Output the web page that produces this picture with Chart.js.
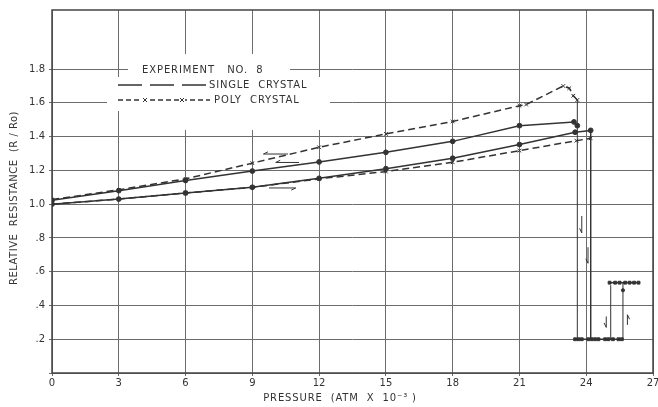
<!DOCTYPE html>
<html>
<head>
<meta charset="utf-8">
<script src="https://cdn.jsdelivr.net/npm/chart.js@4/dist/chart.umd.min.js"></script>
<style>
  html, body { margin: 0; padding: 0; background: #fff; }
  #wrap { width: 658px; height: 407px; }
</style>
</head>
<body>
<div id="wrap"><canvas id="c"></canvas></div>
<script>
const INK = "#333";
const GRID = "#6c6c6c";
const FONT = "'DejaVu Sans', 'Liberation Sans', sans-serif";

// pressure (atm x 10^-3) vs R/R0
const singleUpX = [0, 3, 6, 9, 12, 15, 18, 21, 23.5, 24.2];
const singleUpY = [1.0, 1.03, 1.066, 1.10, 1.153, 1.21, 1.272, 1.353, 1.426, 1.437];
const singleDownX = [23.6, 23.45, 21, 18, 15, 12, 9, 6, 3, 0];
const singleDownY = [1.465, 1.487, 1.465, 1.372, 1.307, 1.25, 1.196, 1.14, 1.08, 1.023];
const polyUpX = [0, 3, 6, 9, 12, 15, 18, 21, 23.56, 24.2];
const polyUpY = [1.0, 1.03, 1.066, 1.10, 1.15, 1.193, 1.248, 1.317, 1.376, 1.39];
const polyDownX = [23.6, 23.42, 23.24, 22.97, 21.3, 21, 18, 15, 12, 9, 6, 3, 0];
const polyDownY = [1.617, 1.642, 1.687, 1.70, 1.59, 1.583, 1.49, 1.416, 1.337, 1.243, 1.15, 1.085, 1.027];

// vertical transitions
const dropAX = [23.6, 23.6];
const dropAY = [0.2, 1.617];
const dropBX = [24.2, 24.2];
const dropBY = [1.437, 0.2];
const riseAX = [25.1, 25.1];
const riseAY = [0.2, 0.52];
const riseBX = [25.65, 25.65, 25.65, 25.65];
const riseBY = [0.2, 0.46, 0.49, 0.535];

// low resistance phase
const lowX = [23.5, 23.65, 23.8, 24.1, 24.25, 24.4, 24.55, 24.85, 25.0, 25.2, 25.45, 25.6];
const lowY = [0.2, 0.2, 0.2, 0.2, 0.2, 0.2, 0.2, 0.2, 0.2, 0.2, 0.2, 0.2];
const lowTopX = [25.05, 25.3, 25.5, 25.75, 25.95, 26.15, 26.35];
const lowTopY = [0.535, 0.535, 0.535, 0.535, 0.535, 0.535, 0.535];

// direction arrows [x1, y1, x2, y2]
const arrows = [
  [10.6, 1.297, 9.5, 1.297],
  [11.1, 1.247, 10.05, 1.247],
  [9.75, 1.096, 10.95, 1.096],
  [23.8, 0.93, 23.8, 0.83],
  [24.08, 0.745, 24.08, 0.65],
  [24.9, 0.335, 24.9, 0.27],
  [25.85, 0.285, 25.85, 0.345],
];

const xTicks = [0, 3, 6, 9, 12, 15, 18, 21, 24, 27];
const yTicks = [0, 0.2, 0.4, 0.6, 0.8, 1.0, 1.2, 1.4, 1.6, 1.8];
const yLabels = ["", ".2", ".4", ".6", ".8", "1.0", "1.2", "1.4", "1.6", "1.8"];

const pts = (xs, ys) => xs.map((x, i) => ({ x, y: ys[i] }));

function series(xs, ys, o) {
  return Object.assign({
    data: pts(xs, ys),
    borderColor: INK,
    backgroundColor: INK,
    borderWidth: 1.5,
    pointRadius: 2.4,
    pointBorderWidth: 1,
    pointStyle: "circle",
    tension: 0,
  }, o);
}

function spaced(ctx, text, x, y, spacing) {
  ctx.letterSpacing = spacing + "px";
  ctx.fillText(text, x, y);
  ctx.letterSpacing = "0px";
}

const legendBox = {
  id: "legendBox",
  beforeDatasetsDraw(chart) {
    const ctx = chart.ctx;
    ctx.save();
    ctx.fillStyle = "#fff";
    ctx.fillRect(128, 54, 162, 76);
    ctx.fillRect(107, 77, 21, 34);
    ctx.fillRect(290, 77, 40, 53);
    const a = chart.chartArea;
    ctx.strokeStyle = "#444";
    ctx.lineWidth = 1.5;
    ctx.strokeRect(a.left, a.top, a.right - a.left, a.bottom - a.top);
    ctx.restore();
  },
  afterDatasetsDraw(chart) {
    const ctx = chart.ctx;
    const xs = chart.scales.x, ys = chart.scales.y;
    ctx.save();
    ctx.fillStyle = INK;
    ctx.strokeStyle = INK;
    ctx.font = "10px " + FONT;
    ctx.textBaseline = "middle";
    spaced(ctx, "EXPERIMENT   NO.  8", 142, 70, 0.9);
    spaced(ctx, "SINGLE  CRYSTAL", 209, 85, 0.8);
    spaced(ctx, "POLY  CRYSTAL", 214, 100, 0.9);
    ctx.lineWidth = 1.5;
    ctx.setLineDash([24, 8]);
    ctx.beginPath(); ctx.moveTo(118, 85); ctx.lineTo(208, 85); ctx.stroke();
    ctx.setLineDash([5, 3]);
    ctx.beginPath(); ctx.moveTo(118, 100); ctx.lineTo(210, 100); ctx.stroke();
    ctx.setLineDash([]);
    ctx.lineWidth = 1;
    [145, 182].forEach((cx) => {
      ctx.fillStyle = "#fff";
      ctx.fillRect(cx - 3, 96, 6, 8);
      ctx.beginPath();
      ctx.moveTo(cx - 2, 98); ctx.lineTo(cx + 2, 102);
      ctx.moveTo(cx + 2, 98); ctx.lineTo(cx - 2, 102);
      ctx.stroke();
    });
    ctx.fillStyle = INK;
    // axis titles
    ctx.textAlign = "center";
    spaced(ctx, "PRESSURE  (ATM  X  10⁻³ )", 340, 398, 0.85);
    ctx.translate(14, 198);
    ctx.rotate(-Math.PI / 2);
    spaced(ctx, "RELATIVE  RESISTANCE  (R / Ro)", 0, 0, 0.5);
    ctx.setTransform(1, 0, 0, 1, 0, 0);
    // direction arrows
    ctx.lineWidth = 1;
    arrows.forEach(([x1, y1, x2, y2]) => {
      const p1 = [xs.getPixelForValue(x1), ys.getPixelForValue(y1)];
      const p2 = [xs.getPixelForValue(x2), ys.getPixelForValue(y2)];
      const ang = Math.atan2(p2[1] - p1[1], p2[0] - p1[0]);
      ctx.beginPath();
      ctx.moveTo(p1[0], p1[1]);
      ctx.lineTo(p2[0], p2[1]);
      ctx.lineTo(p2[0] - 5 * Math.cos(ang - 0.45), p2[1] - 5 * Math.sin(ang - 0.45));
      ctx.stroke();
    });
    ctx.restore();
  },
};

new Chart(document.getElementById("c"), {
  type: "line",
  data: {
    datasets: [
      series(singleUpX, singleUpY, {}),
      series(singleDownX, singleDownY, {}),
      series(polyUpX, polyUpY, { borderDash: [7, 4], pointStyle: "crossRot", pointRadius: 2.6 }),
      series(polyDownX, polyDownY, { borderDash: [7, 4], pointStyle: "crossRot", pointRadius: 2.6 }),
      series(dropAX, dropAY, { borderWidth: 1, pointRadius: 0 }),
      series(dropBX, dropBY, { borderWidth: 1, pointRadius: 0 }),
      series(riseAX, riseAY, { borderWidth: 1, pointRadius: 0 }),
      series(riseBX, riseBY, { borderWidth: 1, pointRadius: [0, 0, 1.6, 0] }),
      series(lowX, lowY, { pointStyle: "rect", pointRadius: 2 }),
      series(lowTopX, lowTopY, { pointStyle: "rect", pointRadius: 2 }),
    ],
  },
  options: {
    responsive: true,
    maintainAspectRatio: false,
    animation: false,
    layout: { padding: { left: 0, right: 3, top: 9, bottom: 0 } },
    plugins: { legend: { display: false }, tooltip: { enabled: false } },
    scales: {
      x: {
        type: "linear",
        min: 0,
        max: 27,
        afterBuildTicks: (s) => { s.ticks = xTicks.map((v) => ({ value: v })); },
        afterFit: (s) => { s.height = 34; s.paddingLeft = 0; s.paddingRight = 0; },
        ticks: { color: INK, font: { family: FONT, size: 10 }, padding: 1, maxRotation: 0 },
        grid: { color: GRID, lineWidth: 1, tickLength: 3 },
        border: { display: false },
      },
      y: {
        min: 0,
        max: 2.15,
        afterBuildTicks: (s) => { s.ticks = yTicks.map((v) => ({ value: v })); },
        afterFit: (s) => { s.width = 52; },
        ticks: {
          color: INK,
          font: { family: FONT, size: 10 },
          padding: 4,
          callback: (v, i) => yLabels[i],
        },
        grid: { color: GRID, lineWidth: 1, tickLength: 3 },
        border: { display: false },
      },
    },
  },
  plugins: [legendBox],
});
</script>
</body>
</html>
